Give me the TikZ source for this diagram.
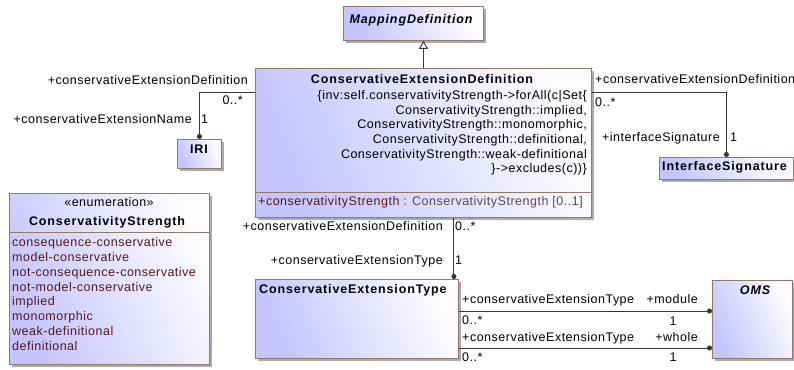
\documentclass[tikz,border=0pt]{standalone}
\usepackage{fontspec}
\setmainfont{Liberation Sans}[LetterSpace=4,BoldFeatures={LetterSpace=7},BoldItalicFeatures={LetterSpace=7}]
\usetikzlibrary{shadows,arrows.meta}

\definecolor{boxA}{RGB}{196,196,255}
\definecolor{boxB}{RGB}{253,253,255}
\definecolor{boxline}{RGB}{150,120,105}
\definecolor{wire}{RGB}{55,55,55}
\definecolor{lit}{RGB}{85,25,25}
\definecolor{typ}{RGB}{85,75,75}

\tikzset{
  every node/.style={font=\fontsize{12.5}{14}\selectfont, inner sep=0pt},
  umlbox/.style={rectangle, draw=boxline, line width=0.9pt, anchor=north west,
    top color=boxA, bottom color=boxB, shading angle=112,
    drop shadow={shadow xshift=2.5pt, shadow yshift=-2.5pt, fill=black!55, opacity=0.6}},
  compart/.style={draw=boxline, line width=0.9pt},
  conn/.style={draw=wire, line width=0.9pt},
  dotted end/.style={-{Circle[length=5pt]}},
  lbl/.style={text=black},
  title/.style={font=\fontsize{12.5}{14}\selectfont\bfseries},
  ititle/.style={font=\fontsize{12.5}{14}\selectfont\bfseries\itshape},
  litstyle/.style={text=lit, anchor=mid west},
}

\begin{document}
\begin{tikzpicture}[x=1pt,y=-1pt]
\useasboundingbox (0,0) rectangle (794,369);

% class boxes
\node[umlbox, minimum width=140, minimum height=34] (md) at (343,6) {};
\node[umlbox, minimum width=336, minimum height=149] (ced) at (255,68) {};
\node[umlbox, minimum width=44, minimum height=29] (iri) at (177,139) {};
\node[umlbox, minimum width=134, minimum height=22] (is) at (659,157) {};
\node[umlbox, minimum width=200, minimum height=171] (enum) at (9,193) {};
\node[umlbox, minimum width=203, minimum height=79] (cet) at (255,279) {};
\node[umlbox, minimum width=80, minimum height=78] (oms) at (712,280) {};

% compartment separators
\draw[compart] ([yshift=-124pt]ced.north west) -- ([yshift=-124pt]ced.north east);
\draw[compart] ([yshift=-39pt]enum.north west) -- ([yshift=-39pt]enum.north east);

% class names
\node[ititle, anchor=mid] (mdname) at (411,21) {MappingDefinition};
\node[title, anchor=mid] (cedname) at (422,81) {ConservativeExtensionDefinition};
\node[title, anchor=mid] (iriname) at (199,151) {IRI};
\node[title, anchor=mid west] (isname) at (662,168) {InterfaceSignature};
\node[title, anchor=mid west] (cetname) at (259,291) {ConservativeExtensionType};
\node[ititle, anchor=mid] (omsname) at (755,292) {OMS};
\node[anchor=mid] (enumst) at (109,204) {«enumeration»};
\node[title, anchor=mid] (enumname) at (107,223) {ConservativityStrength};

% invariant of ConservativeExtensionDefinition
\node[anchor=mid east] (inv1) at (587,97) {\{inv:self.conservativityStrength->forAll(c|Set\{};
\node[anchor=mid east] (inv2) at (587,111.6) {ConservativityStrength::implied,};
\node[anchor=mid east] (inv3) at (587,126.2) {ConservativityStrength::monomorphic,};
\node[anchor=mid east] (inv4) at (587,140.8) {ConservativityStrength::definitional,};
\node[anchor=mid east] (inv5) at (587,155.4) {ConservativityStrength::weak-definitional};
\node[anchor=mid east] (inv6) at (587,170) {\}->excludes(c))\}};

% attribute
\node[anchor=mid west] (attr) at (258,203) {\textcolor{lit}{+conservativityStrength}~\textcolor{typ}{: ConservativityStrength [0..1]}};

% enumeration literals
\node[litstyle] (l1) at (12,244) {consequence-conservative};
\node[litstyle] (l2) at (12,258.8) {model-conservative};
\node[litstyle] (l3) at (12,273.6) {not-consequence-conservative};
\node[litstyle] (l4) at (12,288.4) {not-model-conservative};
\node[litstyle] (l5) at (12,303.2) {implied};
\node[litstyle] (l6) at (12,318) {monomorphic};
\node[litstyle] (l7) at (12,332.8) {weak-definitional};
\node[litstyle] (l8) at (12,347.6) {definitional};

% generalization
\draw[conn, -{Triangle[open, length=8pt, width=9pt]}] (ced.north) -- (ced.north |- md.south);

% associations
\coordinate (cedL) at ([yshift=-24pt]ced.north west);
\coordinate (cedR) at ([yshift=-24pt]ced.north east);
\draw[conn, dotted end] (cedL) -| (iri.north);
\draw[conn, dotted end] (cedR) -| (is.north);

\coordinate (cetTop) at ([xshift=-5pt]cet.north east);
\draw[conn, dotted end] (ced.south -| cetTop) -- (cetTop);

\coordinate (m1) at ([yshift=-32pt]cet.north east);
\coordinate (m2) at ([yshift=-69pt]cet.north east);
\draw[conn, dotted end] (m1) -- (m1 -| oms.west);
\draw[conn, dotted end] (m2) -- (m2 -| oms.west);

% association end labels
\node[lbl, anchor=mid east] (a1) at (248,82) {+conservativeExtensionDefinition};
\node[lbl, anchor=mid east] (a2) at (243,102) {0..*};
\node[lbl, anchor=mid east] (a3) at (192,121) {+conservativeExtensionName};
\node[lbl, anchor=mid west] (a4) at (201,121) {1};

\node[lbl, anchor=mid west] (b1) at (595,81) {+conservativeExtensionDefinition};
\node[lbl, anchor=mid west] (b2) at (595,103.5) {0..*};
\node[lbl, anchor=mid east] (b3) at (720,139) {+interfaceSignature};
\node[lbl, anchor=mid west] (b4) at (730,139) {1};

\node[lbl, anchor=mid east] (c1) at (443,228) {+conservativeExtensionDefinition};
\node[lbl, anchor=mid west] (c2) at (455,228) {0..*};
\node[lbl, anchor=mid east] (c3) at (443,262) {+conservativeExtensionType};
\node[lbl, anchor=mid west] (c4) at (455,262) {1};

\node[lbl, anchor=mid west] (d1) at (462,300.5) {+conservativeExtensionType};
\node[lbl, anchor=mid east] (d2) at (698,300.5) {+module};
\node[lbl, anchor=mid west] (d3) at (462,322) {0..*};
\node[lbl, anchor=mid] (d4) at (673,322.5) {1};
\node[lbl, anchor=mid west] (d5) at (462,338.5) {+conservativeExtensionType};
\node[lbl, anchor=mid east] (d6) at (698,338.5) {+whole};
\node[lbl, anchor=mid west] (d7) at (462,359) {0..*};
\node[lbl, anchor=mid] (d8) at (673,359) {1};
\end{tikzpicture}
\end{document}
